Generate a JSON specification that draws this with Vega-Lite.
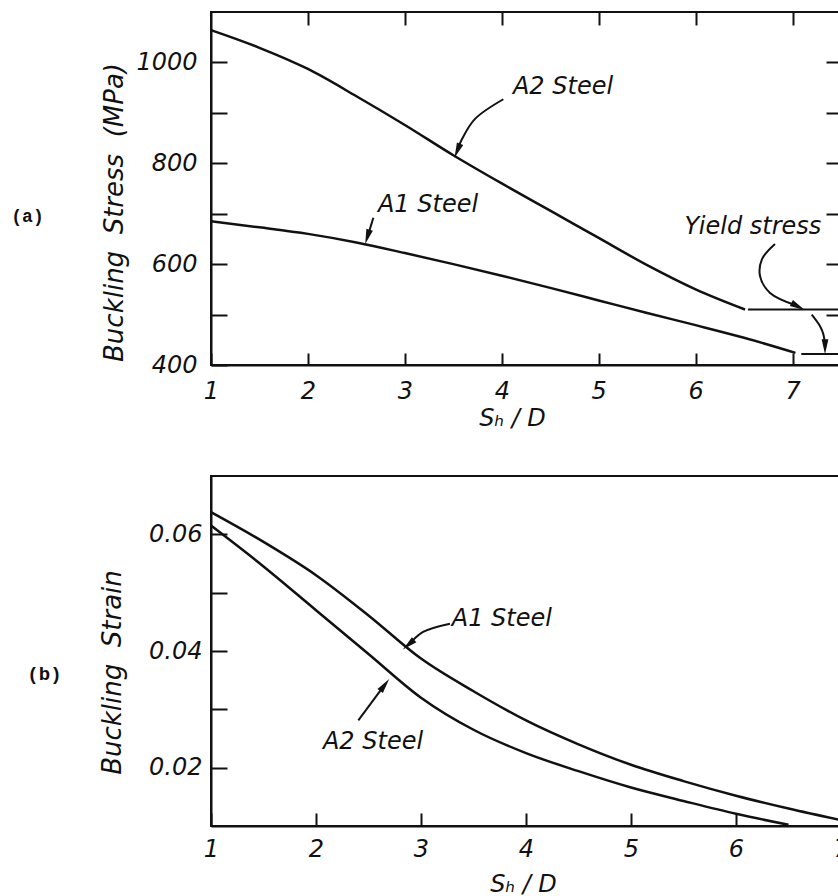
{
  "$schema": "https://vega.github.io/schema/vega-lite/v6.json",
  "background": "white",
  "padding": {"left": 10, "top": 10, "right": 0, "bottom": 0},
  "spacing": 44,
  "config": {
    "view": {"stroke": "#111", "strokeWidth": 2},
    "axis": {
      "grid": false,
      "domainColor": "#111", "domainWidth": 2,
      "tickColor": "#111", "tickWidth": 2,
      "labelFont": "DejaVu Sans", "labelFontStyle": "italic", "labelFontSize": 24, "labelColor": "#111",
      "titleFont": "DejaVu Sans", "titleFontStyle": "italic", "titleFontWeight": "normal", "titleFontSize": 24, "titleColor": "#111",
      "labelFlush": false, "labelOverlap": false
    },
    "text": {"font": "DejaVu Sans", "fontStyle": "italic", "fontSize": 24, "color": "#111"}
  },
  "datasets": {
    "stress": [
      {"steel": "A2", "sd": 1.0, "stress": 1064},
      {"steel": "A2", "sd": 1.5, "stress": 1029},
      {"steel": "A2", "sd": 2.0, "stress": 987},
      {"steel": "A2", "sd": 2.5, "stress": 933},
      {"steel": "A2", "sd": 3.0, "stress": 876},
      {"steel": "A2", "sd": 3.5, "stress": 816},
      {"steel": "A2", "sd": 4.0, "stress": 760},
      {"steel": "A2", "sd": 4.5, "stress": 706},
      {"steel": "A2", "sd": 5.0, "stress": 652},
      {"steel": "A2", "sd": 5.5, "stress": 598},
      {"steel": "A2", "sd": 6.0, "stress": 550},
      {"steel": "A2", "sd": 6.51, "stress": 510},
      {"steel": "A1", "sd": 1.0, "stress": 685},
      {"steel": "A1", "sd": 1.5, "stress": 673},
      {"steel": "A1", "sd": 2.0, "stress": 660},
      {"steel": "A1", "sd": 2.5, "stress": 643},
      {"steel": "A1", "sd": 3.0, "stress": 622},
      {"steel": "A1", "sd": 3.5, "stress": 600},
      {"steel": "A1", "sd": 4.0, "stress": 577},
      {"steel": "A1", "sd": 4.5, "stress": 553},
      {"steel": "A1", "sd": 5.0, "stress": 528},
      {"steel": "A1", "sd": 5.5, "stress": 503},
      {"steel": "A1", "sd": 6.0, "stress": 479},
      {"steel": "A1", "sd": 6.5, "stress": 454},
      {"steel": "A1", "sd": 7.03, "stress": 424}
    ],
    "yield": [
      {"steel": "A2", "sd": 6.54, "stress": 510},
      {"steel": "A2", "sd": 7.5, "stress": 510},
      {"steel": "A1", "sd": 7.09, "stress": 422},
      {"steel": "A1", "sd": 7.5, "stress": 422}
    ],
    "arrowsA": [
      {"arrow": "A2", "i": 0, "sd": 4.016, "stress": 927},
      {"arrow": "A2", "i": 1, "sd": 3.724, "stress": 888},
      {"arrow": "A2", "i": 2, "sd": 3.59, "stress": 848},
      {"arrow": "A2", "i": 3, "sd": 3.545, "stress": 828},
      {"arrow": "A1", "i": 0, "sd": 2.675, "stress": 692},
      {"arrow": "A1", "i": 1, "sd": 2.618, "stress": 656},
      {"arrow": "Y", "i": 0, "sd": 6.819, "stress": 640},
      {"arrow": "Y", "i": 1, "sd": 6.685, "stress": 610},
      {"arrow": "Y", "i": 2, "sd": 6.665, "stress": 576},
      {"arrow": "Y", "i": 3, "sd": 6.768, "stress": 543},
      {"arrow": "Y", "i": 4, "sd": 7.04, "stress": 518},
      {"arrow": "Y2", "i": 0, "sd": 7.198, "stress": 500},
      {"arrow": "Y2", "i": 1, "sd": 7.284, "stress": 477},
      {"arrow": "Y2", "i": 2, "sd": 7.318, "stress": 461},
      {"arrow": "Y2", "i": 3, "sd": 7.335, "stress": 438}
    ],
    "headsA": [
      {"arrow": "A2", "sd": 3.541, "stress": 825},
      {"arrow": "A1", "sd": 2.614, "stress": 654},
      {"arrow": "Y", "sd": 7.057, "stress": 516},
      {"arrow": "Y2", "sd": 7.335, "stress": 436}
    ],
    "textA": [
      {"sd": 4.632, "stress": 951, "text": "A2  Steel"},
      {"sd": 3.239, "stress": 717, "text": "A1  Steel"},
      {"sd": 6.592, "stress": 674, "text": "Yield stress"}
    ],
    "tagA": [{"sd": -0.893, "stress": 693, "text": "(a)"}],
    "strain": [
      {"steel": "A1", "sd": 1.0, "strain": 0.0638},
      {"steel": "A1", "sd": 1.5, "strain": 0.0587},
      {"steel": "A1", "sd": 2.0, "strain": 0.053},
      {"steel": "A1", "sd": 2.5, "strain": 0.0461},
      {"steel": "A1", "sd": 3.0, "strain": 0.0387},
      {"steel": "A1", "sd": 3.5, "strain": 0.0331},
      {"steel": "A1", "sd": 4.0, "strain": 0.0281},
      {"steel": "A1", "sd": 4.5, "strain": 0.024},
      {"steel": "A1", "sd": 5.0, "strain": 0.0205},
      {"steel": "A1", "sd": 5.5, "strain": 0.0177},
      {"steel": "A1", "sd": 6.0, "strain": 0.0152},
      {"steel": "A1", "sd": 6.5, "strain": 0.013},
      {"steel": "A1", "sd": 7.0, "strain": 0.011},
      {"steel": "A2", "sd": 1.0, "strain": 0.0615},
      {"steel": "A2", "sd": 1.5, "strain": 0.0545},
      {"steel": "A2", "sd": 2.0, "strain": 0.047},
      {"steel": "A2", "sd": 2.5, "strain": 0.0395},
      {"steel": "A2", "sd": 3.0, "strain": 0.032},
      {"steel": "A2", "sd": 3.5, "strain": 0.0265},
      {"steel": "A2", "sd": 4.0, "strain": 0.0225},
      {"steel": "A2", "sd": 4.5, "strain": 0.0194},
      {"steel": "A2", "sd": 5.0, "strain": 0.0166},
      {"steel": "A2", "sd": 5.5, "strain": 0.0143},
      {"steel": "A2", "sd": 6.0, "strain": 0.0121},
      {"steel": "A2", "sd": 6.5, "strain": 0.0102}
    ],
    "arrowsB": [
      {"arrow": "A1", "i": 0, "sd": 3.276, "strain": 0.04468},
      {"arrow": "A1", "i": 1, "sd": 3.02, "strain": 0.04326},
      {"arrow": "A1", "i": 2, "sd": 2.885, "strain": 0.04112},
      {"arrow": "A2", "i": 0, "sd": 2.403, "strain": 0.02812},
      {"arrow": "A2", "i": 1, "sd": 2.65, "strain": 0.0341}
    ],
    "headsB": [
      {"arrow": "A1", "sd": 2.881, "strain": 0.04108},
      {"arrow": "A2", "sd": 2.654, "strain": 0.03416}
    ],
    "textB": [
      {"sd": 3.77, "strain": 0.0455, "text": "A1 Steel"},
      {"sd": 2.543, "strain": 0.0244, "text": "A2 Steel"}
    ],
    "tagB": [{"sd": -0.586, "strain": 0.0361, "text": "(b)"}]
  },
  "vconcat": [
    {
      "width": 630,
      "height": 353,
      "resolve": {"axis": {"x": "independent", "y": "independent"}},
      "layer": [
        {
          "data": {"name": "stress"},
          "mark": {"type": "line", "color": "#111", "strokeWidth": 2.5, "interpolate": "monotone"},
          "encoding": {
            "x": {"field": "sd", "type": "quantitative", "scale": {"domain": [1, 7.5], "nice": false, "zero": false},
              "axis": {"orient": "bottom", "values": [1, 2, 3, 4, 5, 6, 7], "tickSize": -12, "labelPadding": 26,
                "title": "Sₕ / D", "titleX": 301, "titleY": 53, "titleBaseline": "middle", "titleAlign": "center"}},
            "y": {"field": "stress", "type": "quantitative", "scale": {"domain": [400, 1100], "nice": false, "zero": false},
              "axis": {"orient": "left", "values": [400, 500, 600, 700, 800, 900, 1000], "format": "d",
                "labelExpr": "datum.value % 200 == 0 ? datum.label : ''", "tickSize": -16, "labelPadding": 30,
                "title": "Buckling\u00a0 Stress\u00a0 (MPa)", "titleFontSize": 26, "titleX": -84, "titleY": 200, "titleAngle": -90, "titleAlign": "center", "titleBaseline": "bottom"}},
            "detail": {"field": "steel"}
          }
        },
        {
          "data": {"name": "yield"},
          "mark": {"type": "line", "color": "#111", "strokeWidth": 2},
          "encoding": {
            "x": {"field": "sd", "type": "quantitative", "scale": {"domain": [1, 7.5], "nice": false, "zero": false},
              "axis": {"orient": "top", "values": [2, 3, 4, 5, 6, 7], "tickSize": -13, "labels": false, "domain": false, "title": null}},
            "y": {"field": "stress", "type": "quantitative", "scale": {"domain": [400, 1100], "nice": false, "zero": false},
              "axis": {"orient": "right", "values": [500, 600, 700, 800, 900, 1000], "tickSize": -15, "labels": false, "domain": false, "title": null}},
            "detail": {"field": "steel"}
          }
        },
        {
          "data": {"name": "arrowsA"},
          "mark": {"type": "line", "color": "#111", "strokeWidth": 2, "interpolate": "catmull-rom"},
          "encoding": {
            "x": {"field": "sd", "type": "quantitative", "axis": null},
            "y": {"field": "stress", "type": "quantitative", "axis": null},
            "detail": {"field": "arrow"},
            "order": {"field": "i"}
          }
        },
        {
          "data": {"name": "headsA"},
          "transform": [{"filter": "datum.arrow == 'A2'"}],
          "mark": {"type": "point", "shape": "M0,-1L-0.45,1L0.45,1Z", "filled": true, "color": "#111", "opacity": 1, "size": 225, "angle": 202},
          "encoding": {"x": {"field": "sd", "type": "quantitative", "axis": null}, "y": {"field": "stress", "type": "quantitative", "axis": null}}
        },
        {
          "data": {"name": "headsA"},
          "transform": [{"filter": "datum.arrow == 'A1'"}],
          "mark": {"type": "point", "shape": "M0,-1L-0.45,1L0.45,1Z", "filled": true, "color": "#111", "opacity": 1, "size": 225, "angle": 197},
          "encoding": {"x": {"field": "sd", "type": "quantitative", "axis": null}, "y": {"field": "stress", "type": "quantitative", "axis": null}}
        },
        {
          "data": {"name": "headsA"},
          "transform": [{"filter": "datum.arrow == 'Y'"}],
          "mark": {"type": "point", "shape": "M0,-1L-0.45,1L0.45,1Z", "filled": true, "color": "#111", "opacity": 1, "size": 225, "angle": 117},
          "encoding": {"x": {"field": "sd", "type": "quantitative", "axis": null}, "y": {"field": "stress", "type": "quantitative", "axis": null}}
        },
        {
          "data": {"name": "headsA"},
          "transform": [{"filter": "datum.arrow == 'Y2'"}],
          "mark": {"type": "point", "shape": "M0,-1L-0.45,1L0.45,1Z", "filled": true, "color": "#111", "opacity": 1, "size": 225, "angle": 180},
          "encoding": {"x": {"field": "sd", "type": "quantitative", "axis": null}, "y": {"field": "stress", "type": "quantitative", "axis": null}}
        },
        {
          "data": {"name": "textA"},
          "mark": {"type": "text", "align": "center", "baseline": "middle"},
          "encoding": {
            "x": {"field": "sd", "type": "quantitative", "axis": null},
            "y": {"field": "stress", "type": "quantitative", "axis": null},
            "text": {"field": "text"}
          }
        },
        {
          "data": {"name": "tagA"},
          "mark": {"type": "text", "align": "center", "baseline": "middle", "font": "Liberation Mono", "fontStyle": "normal", "fontWeight": "bold", "fontSize": 18},
          "encoding": {
            "x": {"field": "sd", "type": "quantitative", "axis": null},
            "y": {"field": "stress", "type": "quantitative", "axis": null},
            "text": {"field": "text"}
          }
        }
      ]
    },
    {
      "width": 630,
      "height": 350,
      "resolve": {"axis": {"x": "independent", "y": "independent"}},
      "layer": [
        {
          "data": {"name": "strain"},
          "mark": {"type": "line", "color": "#111", "strokeWidth": 2.5, "interpolate": "monotone"},
          "encoding": {
            "x": {"field": "sd", "type": "quantitative", "scale": {"domain": [1, 7], "nice": false, "zero": false},
              "axis": {"orient": "bottom", "values": [1, 2, 3, 4, 5, 6, 7], "tickSize": -13, "labelPadding": 24,
                "title": "Sₕ / D", "titleX": 312, "titleY": 58, "titleBaseline": "middle", "titleAlign": "center"}},
            "y": {"field": "strain", "type": "quantitative", "scale": {"domain": [0.01, 0.07], "nice": false, "zero": false},
              "axis": {"orient": "left", "values": [0.02, 0.03, 0.04, 0.05, 0.06], "format": ".2f",
                "labelExpr": "(round(datum.value * 100) % 2 == 0) ? datum.label : ''", "tickSize": -16, "labelPadding": 25,
                "title": "Buckling\u00a0 Strain", "titleFontSize": 26, "titleX": -86, "titleY": 196, "titleAngle": -90, "titleAlign": "center", "titleBaseline": "bottom"}},
            "detail": {"field": "steel"}
          }
        },
        {
          "data": {"name": "arrowsB"},
          "mark": {"type": "line", "color": "#111", "strokeWidth": 2, "interpolate": "catmull-rom"},
          "encoding": {
            "x": {"field": "sd", "type": "quantitative", "axis": null},
            "y": {"field": "strain", "type": "quantitative", "axis": null},
            "detail": {"field": "arrow"},
            "order": {"field": "i"}
          }
        },
        {
          "data": {"name": "headsB"},
          "transform": [{"filter": "datum.arrow == 'A1'"}],
          "mark": {"type": "point", "shape": "M0,-1L-0.45,1L0.45,1Z", "filled": true, "color": "#111", "opacity": 1, "size": 225, "angle": 229},
          "encoding": {"x": {"field": "sd", "type": "quantitative", "axis": null}, "y": {"field": "strain", "type": "quantitative", "axis": null}}
        },
        {
          "data": {"name": "headsB"},
          "transform": [{"filter": "datum.arrow == 'A2'"}],
          "mark": {"type": "point", "shape": "M0,-1L-0.45,1L0.45,1Z", "filled": true, "color": "#111", "opacity": 1, "size": 225, "angle": 37},
          "encoding": {"x": {"field": "sd", "type": "quantitative", "axis": null}, "y": {"field": "strain", "type": "quantitative", "axis": null}}
        },
        {
          "data": {"name": "textB"},
          "mark": {"type": "text", "align": "center", "baseline": "middle"},
          "encoding": {
            "x": {"field": "sd", "type": "quantitative", "axis": null},
            "y": {"field": "strain", "type": "quantitative", "axis": null},
            "text": {"field": "text"}
          }
        },
        {
          "data": {"name": "tagB"},
          "mark": {"type": "text", "align": "center", "baseline": "middle", "font": "Liberation Mono", "fontStyle": "normal", "fontWeight": "bold", "fontSize": 19},
          "encoding": {
            "x": {"field": "sd", "type": "quantitative", "axis": null},
            "y": {"field": "strain", "type": "quantitative", "axis": null},
            "text": {"field": "text"}
          }
        }
      ]
    }
  ]
}
